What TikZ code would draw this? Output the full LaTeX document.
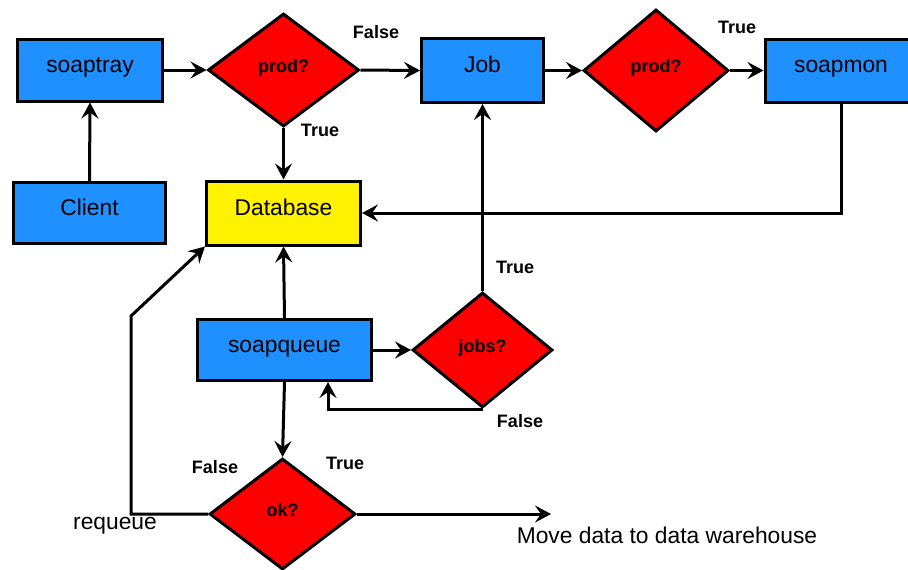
\documentclass[tikz,border=0pt]{standalone}
\usepackage{fontspec}
\setmainfont{Liberation Sans}
\usetikzlibrary{shapes.geometric,arrows.meta}
\definecolor{procblue}{RGB}{30,144,255}

\begin{document}
\begin{tikzpicture}[x=0.5pt,y=-0.5pt,
proc/.style={rectangle,draw,line width=1.5pt,fill=procblue,
text height=6pt,text depth=4pt,
font=\fontsize{11.4}{13}\selectfont},
decide/.style={diamond,draw,line width=1.5pt,fill=red,inner sep=0pt,
text height=6pt,text depth=4pt,
font=\bfseries\fontsize{9}{11}\selectfont},
tag/.style={font=\bfseries\fontsize{9}{11}\selectfont},
note/.style={font=\fontsize{11.4}{13}\selectfont},
flow/.style={-{Stealth[length=8pt,width=8.5pt,inset=3pt]},line width=1.5pt}]
\useasboundingbox (0,0) rectangle (908,569);

% top row
\node[proc,minimum width=72.5pt,minimum height=31pt] (tray) at (90,70) {soaptray};
\node[decide,minimum width=75.5pt,minimum height=56.5pt] (prodA) at (283.5,70) {prod?};
\node[proc,minimum width=61pt,minimum height=32pt] (job) at (482.5,70.5) {Job};
\node[decide,minimum width=72.5pt,minimum height=61pt] (prodB) at (656,70.5) {prod?};
\node[proc,minimum width=76pt,minimum height=31.5pt] (mon) at (841,70.5) {soapmon};

% middle
\node[proc,minimum width=76pt,minimum height=30.5pt] (client) at (89.5,213) {Client};
\node[proc,fill=yellow,minimum width=77pt,minimum height=32pt] (db) at (283.5,213) {Database};
\node[proc,minimum width=87pt,minimum height=30.5pt] (queue) at (284.5,350) {soapqueue};
\node[decide,minimum width=70pt,minimum height=57.5pt] (jobs) at (482.5,350) {jobs?};
\node[decide,minimum width=73pt,minimum height=55.5pt] (ok) at (282.5,514) {ok?};

\coordinate (rqA) at (131,514);
\coordinate (rqB) at (131,316);
\coordinate (out) at (551,514);

% connectors
\draw[flow] (tray.east) -- (prodA.west);
\draw[flow] (prodA.east) -- (job.west);
\draw[flow] (prodA.south) -- (db.north);
\draw[flow] (client.north) -- (tray.south);
\draw[flow] (job.east) -- (prodB.west);
\draw[flow] (prodB.east) -- (mon.west);
\draw[flow] (mon.south) |- (db.east);
\draw[flow] (queue.north) -- (db.south);
\draw[flow] (queue.east) -- (jobs.west);
\draw[flow] (jobs.north) -- (job.south);
\draw[flow] (jobs.south) -| ([xshift=21.75pt]queue.south);
\draw[flow] (queue.south) -- (ok.north);
\draw[flow] (ok.west) -- (rqA) -- (rqB) -- (db.south west);
\draw[flow] (ok.east) -- (out);

% labels
\node[tag] (fA) at (376,32) {False};
\node[tag] (tA) at (320,130) {True};
\node[tag] (tB) at (737,27) {True};
\node[tag] (tC) at (515,267) {True};
\node[tag] (fC) at (520,421) {False};
\node[tag] (fD) at (215,467) {False};
\node[tag] (tD) at (345,463) {True};
\node[note] (rq) at (115,526) {requeue};
\node[note] (mv) at (667,535) {Move data to data warehouse};
\end{tikzpicture}
\end{document}
